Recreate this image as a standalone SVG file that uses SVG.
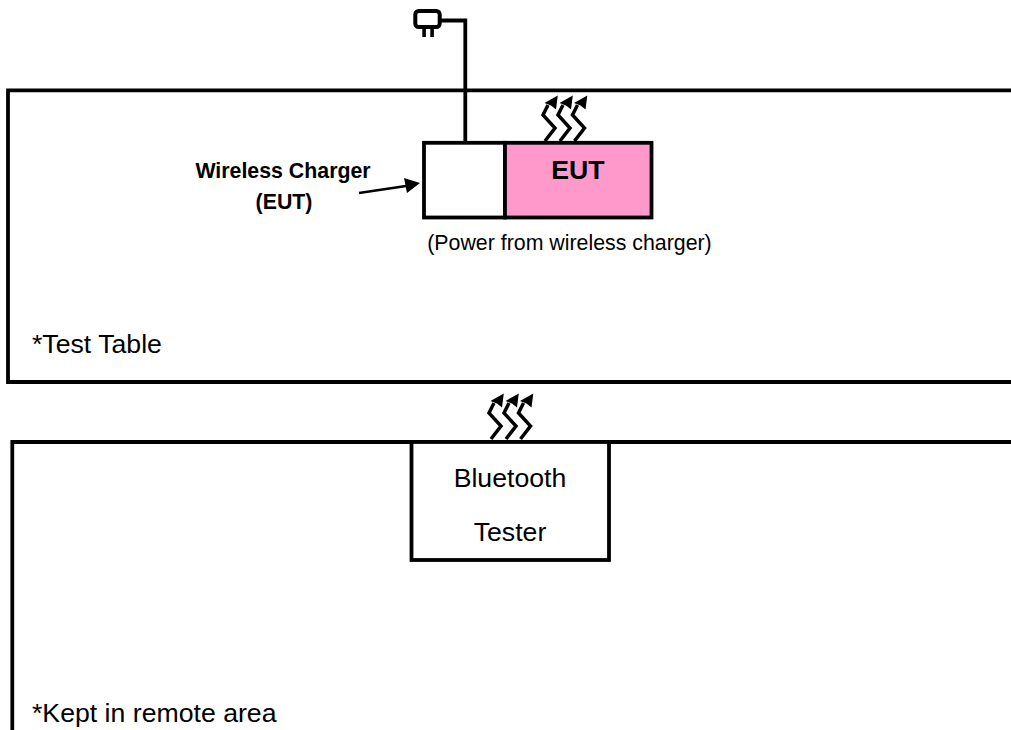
<svg xmlns="http://www.w3.org/2000/svg" width="1011" height="730" viewBox="0 0 1011 730">
<style>
.l{fill:none;stroke:#000;stroke-width:3.8}
.b{stroke:#000;stroke-width:3.8}
.w{fill:none;stroke:#000;stroke-width:3.5}
.t{font-family:"Liberation Sans",Arial,sans-serif;fill:#000}
.big{font-size:26.67px}
.small{font-size:21.33px}
.h{fill:#000;stroke:none}
</style>
<defs>
<g id="wave">
<path class="w" d="M1 -1L11 -14L-1 -27L4 -37"/>
<path class="h" d="M0.500 -39L13.800 -46.500L12 -32.500L7 -36.500Z"/>
</g>
</defs>
<rect width="1011" height="730" fill="#fff"/>
<g id="table"><path class="l" d="M1011 90.300H8V382H1011"/><text class="t big" x="32" y="353">*Test Table</text></g>
<g id="remote"><path class="l" d="M1011 442H12.300V730"/><text class="t big" x="32" y="722">*Kept in remote area</text></g>
<g id="tester"><rect class="b" x="411.500" y="442" width="197.500" height="118" fill="#fff"/><text class="t big" x="510" y="487" text-anchor="middle">Bluetooth</text><text class="t big" x="510" y="541" text-anchor="middle">Tester</text></g>
<g id="charger"><rect class="b" x="424" y="142.800" width="81" height="74.700" fill="#fff"/></g>
<g id="eut"><rect class="b" x="505" y="142.800" width="146.500" height="74.700" fill="#ff99cc"/><text class="t big" x="578" y="179" font-weight="bold" text-anchor="middle">EUT</text></g>
<g id="plug"><rect x="415.300" y="11" width="24.400" height="16" rx="3.500" fill="none" stroke="#000" stroke-width="4"/><path class="h" d="M422.300 28h3.600v9h-3.600zM430.300 28h3.600v9h-3.600z"/></g>
<g id="labels">
<text class="t small" x="283" y="178" font-weight="bold" text-anchor="middle">Wireless Charger</text>
<text class="t small" x="284" y="209" font-weight="bold" text-anchor="middle">(EUT)</text>
<text class="t small" x="569.500" y="250" text-anchor="middle">(Power from wireless charger)</text>
</g>
<g id="connectors">
<path class="l" d="M441 20.500H465.300V142"/>
<path fill="none" stroke="#000" stroke-width="2.600" d="M359 193L406 186"/>
<path class="h" d="M420 183L404 178L407 193Z"/>
<use href="#wave" x="544" y="142"/><use href="#wave" x="559" y="142"/><use href="#wave" x="573.500" y="142"/>
<use href="#wave" x="490" y="440"/><use href="#wave" x="505" y="440"/><use href="#wave" x="519.500" y="440"/>
</g>
</svg>
